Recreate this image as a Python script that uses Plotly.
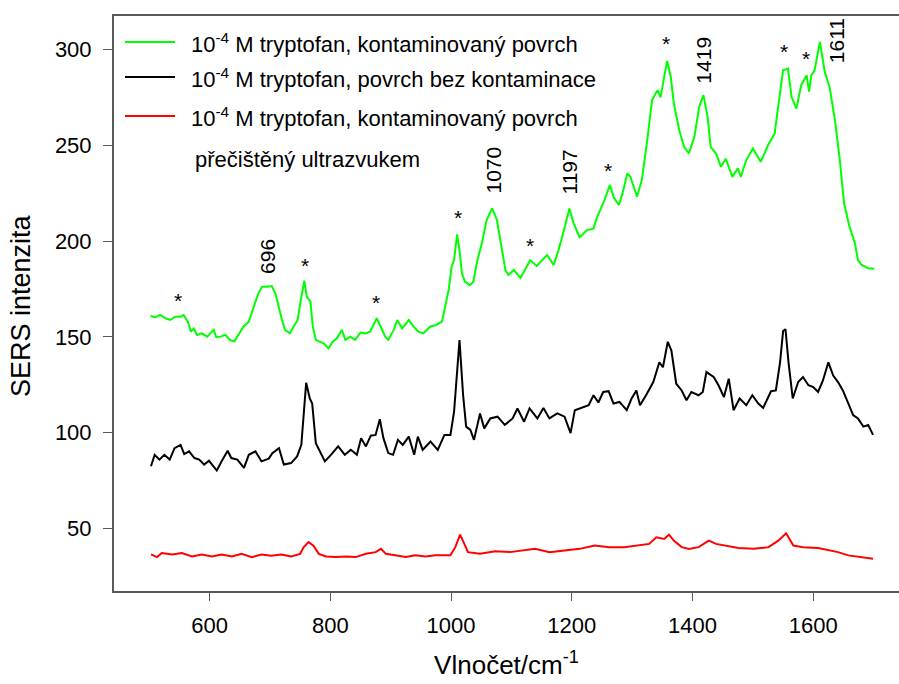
import plotly.graph_objects as go

# SERS spectra of 1e-4 M tryptophan: wavenumber (cm^-1) and intensity
wn_contam = [502, 510, 518, 527, 535, 543, 552, 557, 564, 569,
             574, 579, 587, 596, 601, 607, 611, 618, 626, 634,
             641, 648, 656, 665, 670, 676, 681, 687, 695, 703,
             709, 714, 720, 725, 733, 739, 746, 751, 757, 761,
             767, 771, 776, 782, 789, 797, 804, 811, 819, 825,
             833, 841, 850, 858, 866, 877, 884, 891, 896, 905,
             911, 919, 930, 938, 946, 954, 965, 975, 985, 990,
             996, 1001, 1005, 1010, 1014, 1018, 1023, 1031, 1037, 1043,
             1051, 1059, 1068, 1076, 1082, 1090, 1095, 1104, 1115, 1131,
             1142, 1159, 1170, 1178, 1187, 1196, 1203, 1213, 1225, 1236,
             1242, 1253, 1263, 1270, 1278, 1284, 1292, 1297, 1308, 1316,
             1325, 1333, 1342, 1347, 1353, 1358, 1364, 1369, 1378, 1386,
             1394, 1403, 1411, 1418, 1425, 1430, 1439, 1447, 1455, 1466,
             1475, 1480, 1489, 1500, 1513, 1525, 1536, 1542, 1550, 1558,
             1564, 1572, 1580, 1589, 1593, 1597, 1602, 1611, 1619, 1627,
             1636, 1644, 1651, 1660, 1669, 1674, 1680, 1691, 1701]
int_contam = [160.9, 160.2, 161.4, 159.7, 158.8, 160.5, 160.5, 161.4, 157.9, 152.7,
              154.4, 151.0, 151.8, 150.1, 151.8, 153.6, 149.8, 150.1, 151.0, 148.4,
              147.5, 151.0, 155.3, 157.9, 163.1, 168.4, 172.7, 176.2, 176.2, 176.5,
              172.7, 165.7, 158.8, 153.6, 151.8, 155.3, 158.8, 169.2, 179.3, 171.0,
              168.4, 155.3, 148.4, 147.5, 146.6, 144.0, 147.5, 149.2, 153.6, 148.4,
              150.1, 148.4, 152.2, 151.8, 152.7, 159.7, 154.4, 150.1, 148.4, 153.6,
              158.8, 154.4, 158.8, 155.3, 152.7, 151.8, 155.3, 156.2, 157.9, 164.9,
              174.4, 186.6, 190.1, 203.5, 195.3, 183.1, 178.8, 177.0, 178.8, 189.2,
              198.8, 211.0, 217.1, 211.0, 200.5, 184.9, 182.3, 184.9, 180.7, 190.0,
              187.0, 192.7, 187.5, 195.3, 205.7, 217.0, 209.4, 202.0, 205.7, 206.5,
              212.7, 220.5, 229.2, 222.4, 218.8, 224.9, 235.3, 233.6, 223.1, 231.8,
              252.7, 273.6, 278.8, 275.0, 285.7, 294.0, 285.7, 271.8, 257.9, 249.2,
              245.7, 254.4, 270.0, 276.2, 264.8, 249.2, 245.7, 238.8, 243.0, 233.5,
              238.0, 233.5, 242.3, 248.3, 241.4, 250.0, 256.2, 270.0, 289.2, 290.0,
              275.3, 269.2, 281.4, 286.6, 278.0, 286.6, 289.0, 304.0, 288.3, 280.5,
              263.0, 242.3, 219.7, 207.5, 198.8, 190.0, 187.5, 185.8, 185.5]

wn_clean = [503, 509, 517, 525, 534, 542, 552, 558, 566, 575,
            583, 591, 599, 612, 620, 630, 636, 646, 657, 665,
            676, 686, 698, 704, 715, 723, 735, 745, 752, 756,
            760, 766, 770, 776, 785, 791, 801, 813, 824, 834,
            844, 851, 859, 867, 875, 882, 888, 896, 904, 912,
            920, 930, 939, 945, 953, 966, 978, 989, 999, 1005,
            1014, 1020, 1025, 1032, 1038, 1048, 1055, 1065, 1077, 1089,
            1102, 1110, 1121, 1130, 1143, 1153, 1163, 1176, 1188, 1198,
            1205, 1217, 1228, 1236, 1244, 1252, 1261, 1269, 1279, 1291,
            1299, 1307, 1313, 1323, 1335, 1345, 1351, 1359, 1365, 1373,
            1382, 1390, 1398, 1410, 1417, 1423, 1435, 1443, 1452, 1460,
            1468, 1478, 1489, 1499, 1509, 1517, 1530, 1538, 1545, 1550,
            1554, 1559, 1566, 1575, 1583, 1592, 1600, 1608, 1616, 1625,
            1633, 1641, 1649, 1658, 1666, 1674, 1683, 1691, 1699]
int_clean = [82.4, 88.4, 85.9, 88.4, 85.9, 91.9, 93.6, 88.8, 90.2, 86.7,
             85.9, 83.3, 85.3, 80.2, 85.0, 90.5, 86.7, 85.9, 81.6, 88.4,
             90.2, 85.0, 86.4, 89.3, 91.9, 83.3, 84.1, 87.6, 93.6, 110.9,
             126.0, 117.8, 115.2, 94.5, 88.4, 85.0, 88.4, 92.8, 88.4, 91.0,
             88.4, 97.1, 92.8, 98.4, 98.8, 107.0, 97.1, 89.3, 88.4, 96.2,
             93.6, 97.9, 88.4, 97.9, 91.0, 95.3, 91.0, 98.8, 98.8, 110.9,
             148.3, 119.5, 103.1, 101.4, 96.2, 110.0, 102.2, 107.4, 108.3, 104.0,
             107.4, 112.6, 105.7, 112.6, 107.4, 112.9, 107.4, 110.0, 108.3, 99.7,
             111.7, 112.9, 114.3, 119.5, 115.7, 121.2, 121.6, 115.2, 116.0, 111.7,
             117.8, 122.0, 114.3, 119.5, 126.4, 136.7, 134.1, 147.4, 142.8, 125.5,
             122.0, 116.9, 121.2, 119.5, 121.2, 131.6, 129.0, 124.7, 118.6, 128.1,
             111.7, 117.8, 114.3, 119.5, 115.2, 112.9, 121.6, 122.0, 136.7, 153.0,
             154.0, 136.7, 117.8, 126.4, 129.0, 124.7, 123.8, 121.2, 127.2, 136.7,
             129.8, 126.4, 122.0, 115.2, 109.1, 107.4, 103.1, 104.0, 98.8]

wn_ultra = [503, 513, 521, 538, 554, 571, 587, 604, 620, 637,
            653, 670, 686, 702, 719, 735, 750, 756, 764, 772,
            781, 793, 809, 826, 842, 859, 875, 884, 892, 908,
            925, 941, 958, 974, 999, 1007, 1015, 1022, 1028, 1048,
            1073, 1098, 1122, 1139, 1163, 1188, 1213, 1238, 1262, 1287,
            1312, 1328, 1340, 1353, 1361, 1369, 1382, 1394, 1410, 1427,
            1439, 1460, 1476, 1501, 1526, 1542, 1555, 1567, 1583, 1608,
            1625, 1641, 1658, 1674, 1691, 1699]
int_ultra = [36.4, 35.0, 37.1, 36.4, 37.1, 35.3, 36.4, 35.3, 36.4, 35.3,
             36.7, 35.0, 36.4, 35.7, 36.4, 35.3, 36.7, 40.2, 42.8, 41.0,
             36.7, 35.3, 35.0, 35.3, 35.0, 36.7, 37.6, 39.3, 36.7, 35.9,
             35.0, 35.9, 35.3, 35.9, 35.9, 40.2, 46.7, 41.9, 37.6, 36.7,
             38.1, 37.6, 38.4, 39.3, 37.6, 38.4, 39.3, 41.0, 40.2, 40.2,
             41.0, 41.9, 45.3, 44.5, 46.7, 43.6, 40.2, 39.3, 40.2, 43.6,
             41.9, 40.5, 39.8, 39.3, 40.2, 43.6, 47.4, 41.0, 40.2, 39.8,
             38.8, 37.6, 35.9, 35.3, 34.7, 34.1]

# Band markers: asterisks and assigned wavenumbers (label anchor positions)
star_wn = [548, 758, 876, 1012, 1131, 1260, 1356, 1552, 1588]
star_int = [171.8, 190.1, 170.3, 214.7, 200.5, 239.6, 305.9, 301.7, 298.1]
band_text = ["696", "1070", "1197", "1419", "1611"]
band_wn = [695, 1070, 1196, 1418, 1639]
band_int = [192.2, 237.0, 236.0, 294.4, 304.8]

x_ticks = [600, 800, 1000, 1200, 1400, 1600]
y_ticks = [50, 100, 150, 200, 250, 300]

series_names = [
    "10<sup>-4</sup> M tryptofan, kontaminovaný povrch",
    "10<sup>-4</sup> M tryptofan, povrch bez kontaminace",
    "10<sup>-4</sup> M tryptofan, kontaminovaný povrch",
]
series_note = "přečištěný ultrazvukem"
series_colors = ["#00ff00", "#000000", "#ff0000"]

W, H = 899, 684
M_L, M_R, M_T, M_B = 114, 0, 16, 93
PW, PH = W - M_L - M_R, H - M_T - M_B
FONT = "Liberation Sans, Arial, sans-serif"
AXIS_GRAY = "#5a5a5a"


def paper_x(px):
    return (px - M_L) / PW


def paper_y(py):
    return (H - M_B - py) / PH


fig = go.Figure()
for wn, inten, name, color in zip(
    [wn_contam, wn_clean, wn_ultra],
    [int_contam, int_clean, int_ultra],
    series_names, series_colors,
):
    fig.add_trace(go.Scatter(
        x=wn, y=inten, mode="lines", name=name,
        line=dict(color=color, width=2), showlegend=False,
    ))

annotations = []
for x, y in zip(star_wn, star_int):
    annotations.append(dict(
        x=x, y=y, xref="x", yref="y", text="*", showarrow=False,
        xanchor="center", yanchor="middle", yshift=-5,
        font=dict(family=FONT, size=21, color="black"),
    ))
for t, x, y in zip(band_text, band_wn, band_int):
    annotations.append(dict(
        x=x, y=y, xref="x", yref="y", text=t, showarrow=False,
        textangle=-90, xanchor="center", yanchor="middle",
        font=dict(family=FONT, size=21, color="black"),
    ))

# Hand-placed key in the upper-left corner
shapes = []
key_rows = [42, 77, 116]
for row, name, color in zip(key_rows, series_names, series_colors):
    shapes.append(dict(
        type="line", xref="paper", yref="paper",
        x0=paper_x(125), x1=paper_x(175), y0=paper_y(row), y1=paper_y(row),
        line=dict(color=color, width=2),
    ))
    annotations.append(dict(
        x=paper_x(189), y=paper_y(row + 1), xref="paper", yref="paper",
        text=name, showarrow=False, xanchor="left", yanchor="middle",
        font=dict(family=FONT, size=22, color="black"),
    ))
annotations.append(dict(
    x=paper_x(193), y=paper_y(159), xref="paper", yref="paper",
    text=series_note, showarrow=False, xanchor="left", yanchor="middle",
    font=dict(family=FONT, size=22, color="black"),
))

# Vertical axis title, set close to the left edge
annotations.append(dict(
    x=paper_x(21), y=paper_y(306), xref="paper", yref="paper",
    text="SERS intenzita", showarrow=False, textangle=-90,
    xanchor="center", yanchor="middle",
    font=dict(family=FONT, size=27, color="black"),
))

fig.update_layout(
    width=W, height=H,
    margin=dict(l=M_L, r=M_R, t=M_T, b=M_B, autoexpand=False),
    paper_bgcolor="white", plot_bgcolor="white",
    font=dict(family=FONT, size=22, color="black"),
    annotations=annotations, shapes=shapes,
    xaxis=dict(
        range=[441.7, 1742], tickvals=x_ticks, ticks="outside", ticklen=8,
        tickwidth=1, tickcolor=AXIS_GRAY, showline=True, linecolor=AXIS_GRAY,
        linewidth=2, mirror=True, showgrid=False, zeroline=False,
        tickfont=dict(family=FONT, size=22), ticklabelstandoff=6,
        title=dict(text="Vlnočet/cm<sup>-1</sup>", font=dict(family=FONT, size=26), standoff=18),
    ),
    yaxis=dict(
        range=[17.3, 317.5], tickvals=y_ticks, ticks="outside", ticklen=9,
        tickwidth=1, tickcolor=AXIS_GRAY, showline=True, linecolor=AXIS_GRAY,
        linewidth=2, mirror=False, showgrid=False, zeroline=False,
        tickfont=dict(family=FONT, size=22), ticklabelstandoff=7,
    ),
)

fig.write_html("out.html")
